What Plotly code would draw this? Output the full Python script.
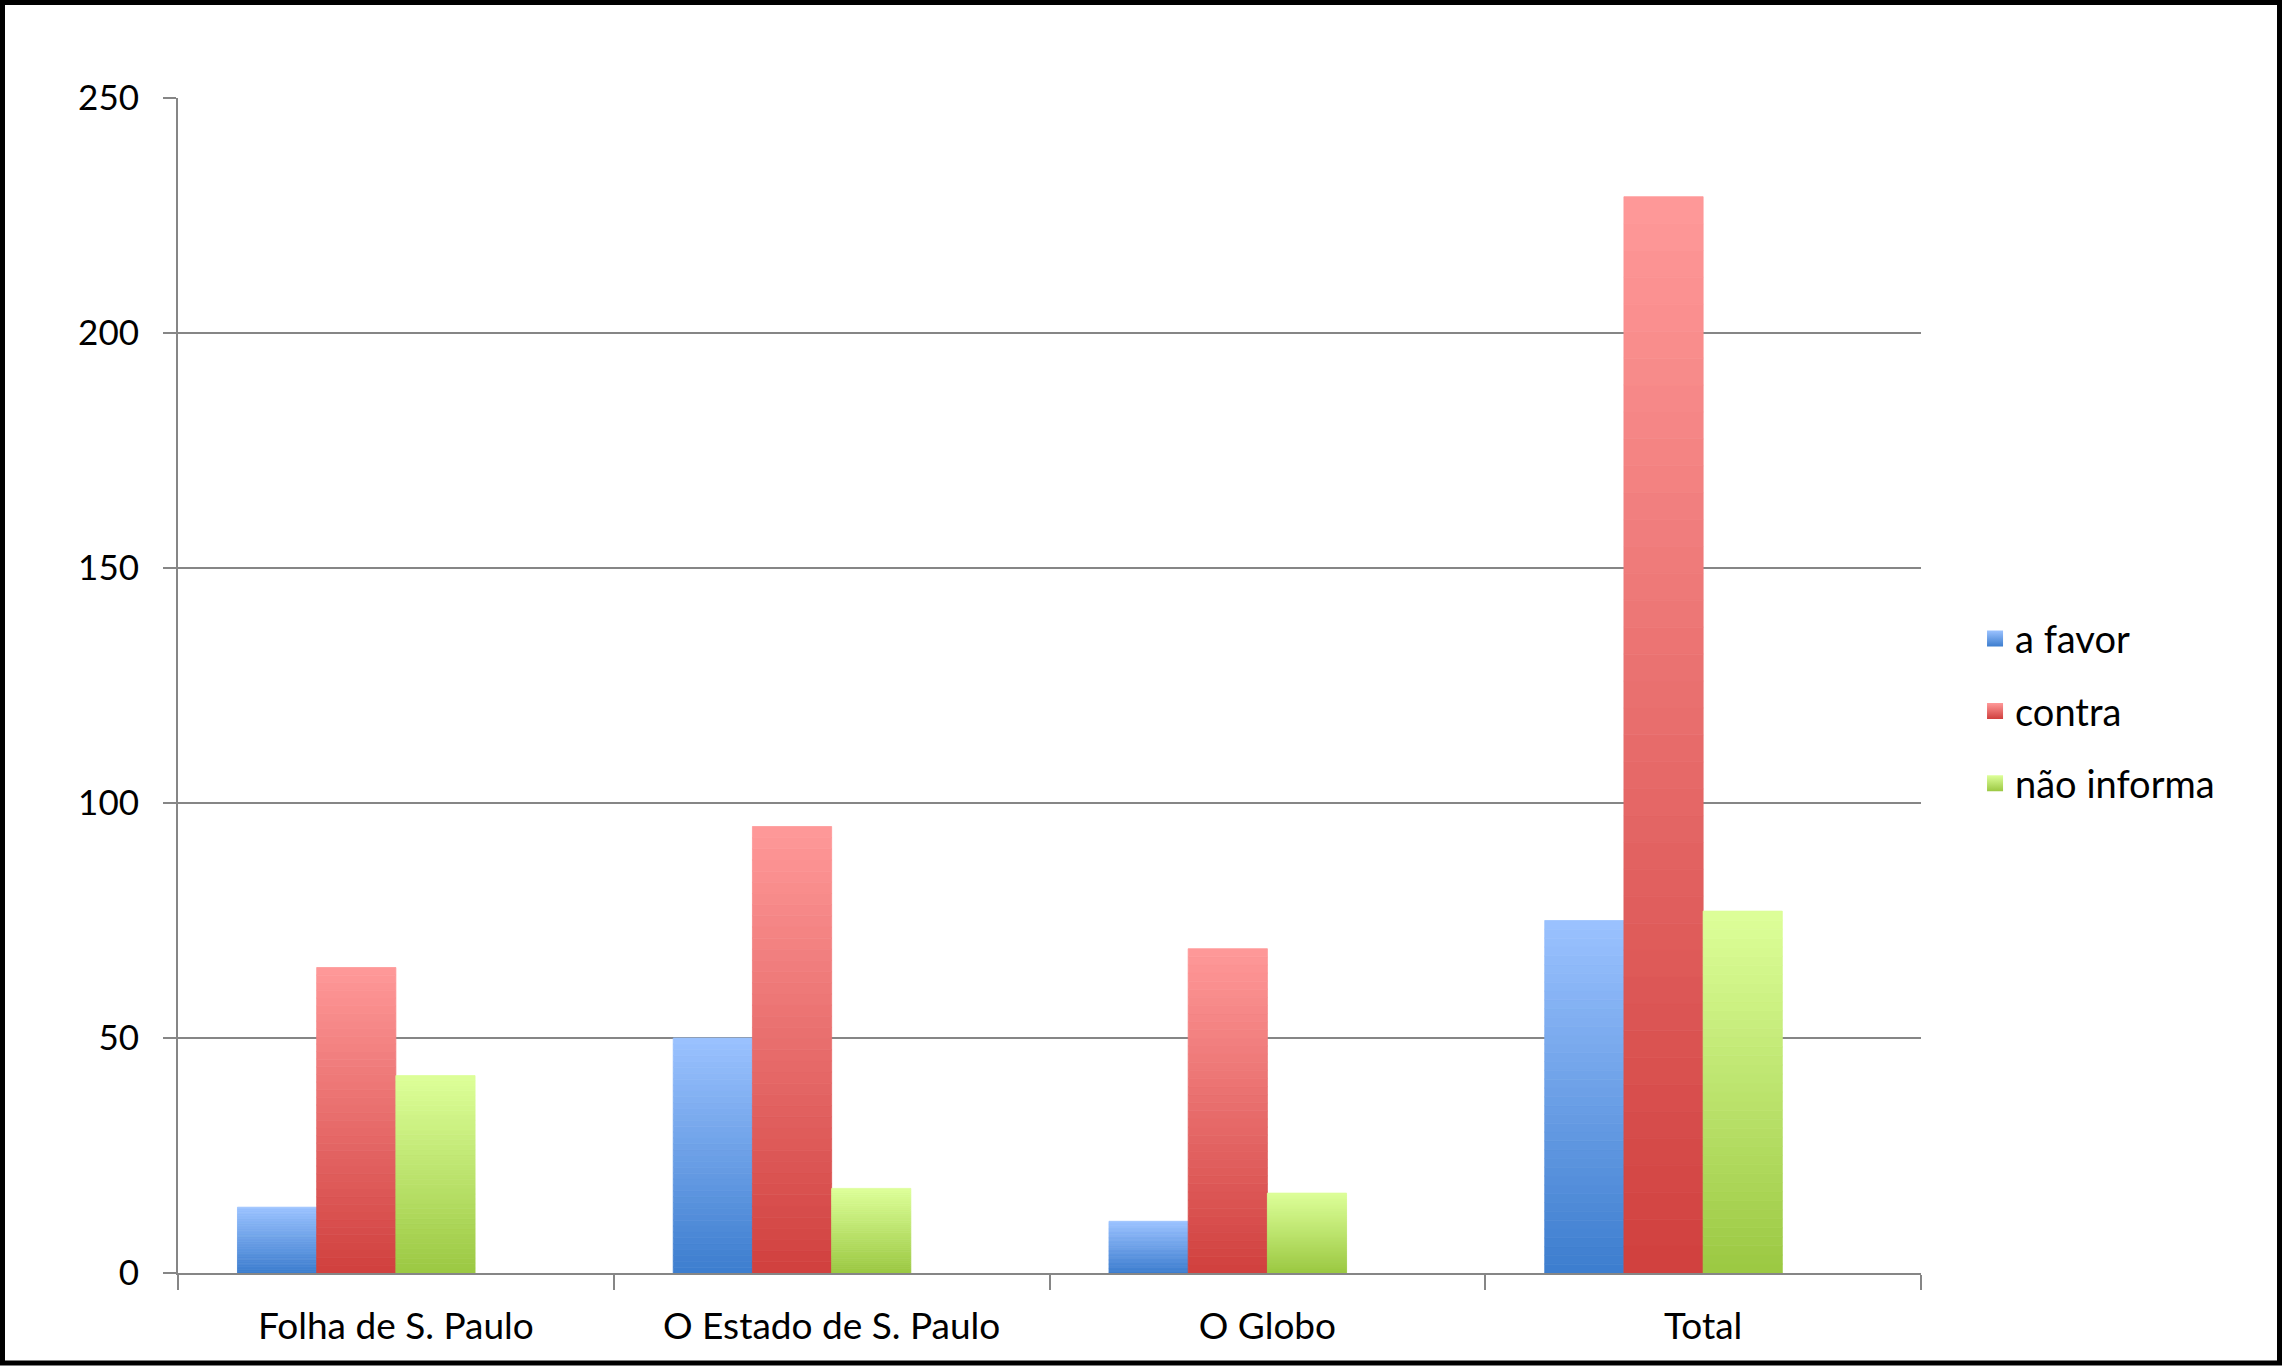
import plotly.graph_objects as go

# categories and counts
jornais = ["Folha de S. Paulo", "O Estado de S. Paulo", "O Globo", "Total"]
a_favor = [14, 50, 11, 75]
contra = [65, 95, 69, 229]
nao_informa = [42, 18, 17, 77]
vazio = [0, 0, 0, 0]  # empty fourth series in the source sheet, keeps a slot in each group

y_ticks = [0, 50, 100, 150, 200, 250]

# (name, values, bottom colour, top colour)
series = [
    ("a favor", a_favor, (60, 125, 206), (155, 194, 255)),
    ("contra", contra, (208, 64, 62), (255, 153, 153)),
    ("não informa", nao_informa, (155, 200, 66), (221, 255, 153)),
]

W, H = 2282, 1366
ML, MR, MT, MB = 178, 361, 98, 93
N = 40  # slices per bar to fake the vertical gradient


def mix(c0, c1, t):
    return "rgb(%d,%d,%d)" % tuple(round(a + (b - a) * t) for a, b in zip(c0, c1))


fig = go.Figure()

# legend entries: big square markers with a gradient
for name, vals, bottom, top in series:
    fig.add_trace(go.Scatter(
        x=[None], y=[None], mode="markers", name=name, legendgroup=name,
        marker=dict(symbol="square", size=22, color=mix(bottom, top, 1),
                    gradient=dict(type="vertical", color=mix(bottom, top, 0)),
                    line=dict(width=0)),
    ))

for name, vals, bottom, top in series:
    for k in range(N):
        c = mix(bottom, top, (k + 0.5) / N)
        fig.add_trace(go.Bar(
            x=jornais,
            y=[v / N for v in vals],
            base=[v * k / N for v in vals],
            offsetgroup=name,
            legendgroup=name,
            name=name,
            showlegend=False,
            marker=dict(color=c, line=dict(width=0.8, color=c)),
            hoverinfo="skip",
        ))

fig.add_trace(go.Bar(x=jornais, y=vazio, offsetgroup="vazio", showlegend=False,
                     marker=dict(color="white", line=dict(width=0)), hoverinfo="skip"))

# black frame round the whole picture
pw = W - ML - MR
ph = H - MT - MB
fig.add_shape(
    type="rect", xref="paper", yref="paper",
    x0=(2.5 - ML) / pw, x1=(W - 2.5 - ML) / pw,
    y0=-(MB - 3) / ph, y1=1 + (MT - 2.5) / ph,
    line=dict(color="black", width=5),
)

base_font = dict(family="Lato, Carlito, sans-serif", color="#000000")

fig.update_layout(
    width=W, height=H,
    margin=dict(l=ML, r=MR, t=MT, b=MB),
    paper_bgcolor="white", plot_bgcolor="white",
    barmode="group", bargap=0.273, bargroupgap=0,
    font=dict(base_font, size=34),
    showlegend=True,
    legend=dict(
        x=1.031, xanchor="left", y=0.478, yanchor="middle",
        font=dict(base_font, size=38), tracegroupgap=20, itemwidth=30,
        itemsizing="trace",
    ),
    xaxis=dict(
        type="category", showline=True, linecolor="#868686", linewidth=2,
        ticks="outside", tickson="boundaries", ticklen=15, tickcolor="#868686",
        tickwidth=2, showgrid=False, tickfont=dict(base_font, size=37),
        ticklabelstandoff=20,
    ),
    yaxis=dict(
        range=[0, 250], tickvals=y_ticks, showgrid=True, gridcolor="#868686",
        gridwidth=2, showline=True, linecolor="#868686", linewidth=2,
        ticks="outside", ticklen=13, tickcolor="#868686", tickwidth=2,
        zeroline=False, tickfont=dict(base_font, size=35), ticklabelstandoff=17,
    ),
)

fig.write_html("out.html", config={"displayModeBar": False},
               post_script="document.body.style.margin='0';")
